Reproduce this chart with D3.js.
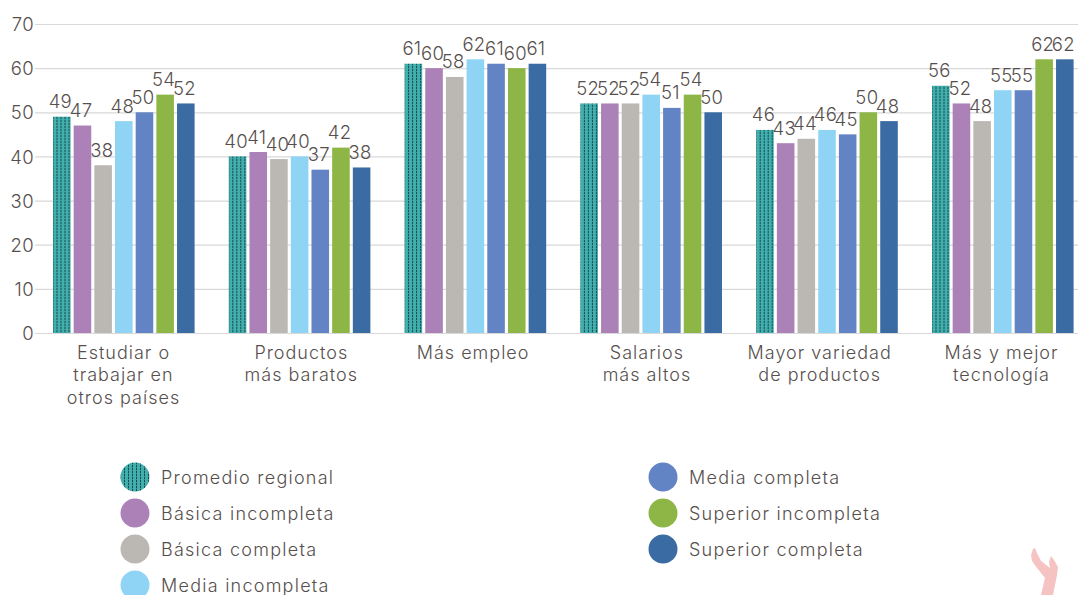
<!DOCTYPE html>
<html><head><meta charset="utf-8">
<script src="https://cdn.jsdelivr.net/npm/d3@7"></script>
<style>html,body{margin:0;padding:0;background:#fff}svg{display:block}text{font-family:"Inter","Noto Sans",sans-serif;font-weight:300;fill:#564f4d}</style>
</head><body><svg id="c" width="1078" height="595"></svg>
<script>
const categories=[["Estudiar o","trabajar en","otros países"],["Productos","más baratos"],["Más empleo"],["Salarios","más altos"],["Mayor variedad","de productos"],["Más y mejor","tecnología"]];
const seriesNames=["Promedio regional","Básica incompleta","Básica completa","Media incompleta","Media completa","Superior incompleta","Superior completa"];
const colors=["#3fb0ae","#ab81b8","#bbb7b3","#8fd4f5","#6384c4","#8db646","#3a6ca3"];
const promedio=[49,40,61,52,46,56];
const basicaIncompleta=[47,41,60,52,43,52];
const basicaCompleta=[38,39.4,58,52,44,48];
const mediaIncompleta=[48,40,62,54,46,55];
const mediaCompleta=[50,37,61,51,45,55];
const superiorIncompleta=[54,42,60,54,50,62];
const superiorCompleta=[52,37.5,61,50,48,62];
const labels=[[49,47,38,48,50,54,52],[40,41,40,40,37,42,38],[61,60,58,62,61,60,61],[52,52,52,54,51,54,50],[46,43,44,46,45,50,48],[56,52,48,55,55,62,62]];
const series=[promedio,basicaIncompleta,basicaCompleta,mediaIncompleta,mediaCompleta,superiorIncompleta,superiorCompleta];
const yTicks=[0,10,20,30,40,50,60,70];

const svg=d3.select("#c");
const defs=svg.append("defs");
const p=defs.append("pattern").attr("id","dots").attr("patternUnits","userSpaceOnUse").attr("width",4).attr("height",3).attr("x",1);
p.append("rect").attr("width",4).attr("height",3).attr("fill","#3fb0ae");
p.append("rect").attr("x",0).attr("width",1).attr("height",2).attr("fill","#1c4a4e");
p.append("rect").attr("x",0).attr("y",2).attr("width",1).attr("height",1).attr("fill","#3c8f90");

const y=d3.scaleLinear().domain([0,70]).range([333,24]);
const x0=d3.scalePoint().domain(d3.range(6)).range([123.5,1002.5]);
const x=d3.scaleBand().domain(d3.range(7)).range([-72,72.7]);
const fill=i=>i===0?"url(#dots)":colors[i];
const labelNudge=[0,2,-2,-4,-7,-1];

const gy=svg.append("g").attr("transform","translate(35,0)")
 .call(d3.axisLeft(y).tickValues(yTicks).tickSize(-1043).tickPadding(3));
gy.select(".domain").remove();
gy.selectAll(".tick line").attr("stroke","#d9d9d9").attr("stroke-width",1.2);
gy.selectAll(".tick text").attr("font-size",18.5).attr("x",-1).attr("dy","0.36em").style("letter-spacing","0.4px");

const gs=svg.selectAll("g.cat").data(categories).join("g").attr("class","cat")
 .attr("transform",(d,i)=>`translate(${x0(i)},0)`);
series.forEach((s,k)=>{
 gs.append("rect").attr("x",x(k)+1.5).attr("width",x.bandwidth()-3.1)
  .attr("y",(d,i)=>y(s[i])).attr("height",(d,i)=>y(0)-y(s[i])).attr("fill",fill(k));
});
series.forEach((s,k)=>{
 gs.append("text").attr("x",x(k)+x.bandwidth()/2-1.5).attr("y",(d,i)=>y(s[i])-8.5)
  .attr("text-anchor","middle").attr("font-size",18.5).style("letter-spacing","0.3px").text((d,i)=>labels[i][k]);
});
gs.each(function(d,i){
 const t=d3.select(this).append("text").attr("text-anchor","middle").attr("font-size",18).style("letter-spacing","1px");
 d.forEach((l,j)=>t.append("tspan").attr("x",labelNudge[i]).attr("y",359+j*22.3).text(l));
});

const legendX=[135,663];
const legendY=[477,513,549,585];
const legendItems=seriesNames.map((n,i)=>({n,i,col:i<4?0:1,row:i<4?i:i-4}));
const lg=svg.selectAll("g.leg").data(legendItems).join("g").attr("class","leg")
 .attr("transform",d=>`translate(${legendX[d.col]},${legendY[d.row]})`);
lg.append("circle").attr("r",14.5).attr("fill",d=>fill(d.i));
lg.append("text").attr("x",26).attr("y",6.5).attr("font-size",18).style("letter-spacing","1.25px").text(d=>d.n);

svg.append("path").attr("fill","#f6c3c3")
 .attr("d",d3.line().curve(d3.curveLinear)([[1041,595],[1045,578],[1037,568],[1032,561],[1031,555],[1033,549],[1035,548],[1037,553],[1041,561],[1050,568],[1049,562],[1051,556],[1054,560],[1058,567],[1057,575],[1053,595]])+"Z");
</script></body></html>
